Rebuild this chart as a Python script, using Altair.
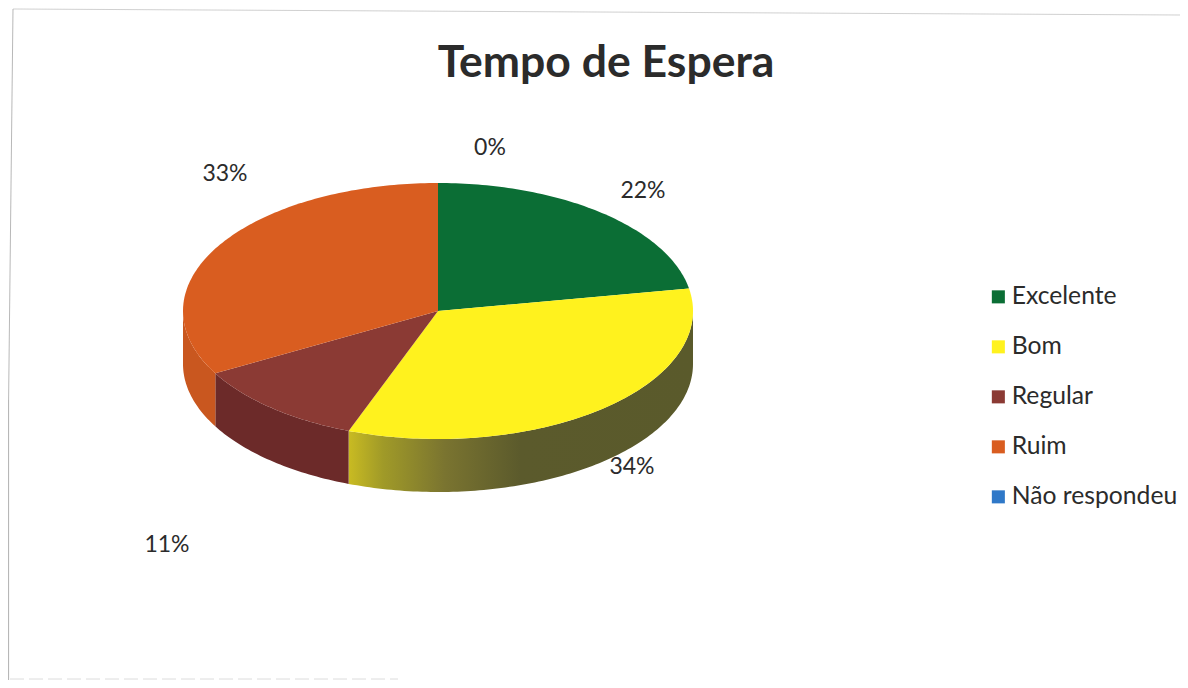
import math
import altair as alt

# ---- values ----
categories = ["Excelente", "Bom", "Regular", "Ruim", "Não respondeu"]
shares = [22.2, 33.5, 11.2, 33.1, 0]
labels = ["22%", "34%", "11%", "33%", "0%"]
top_colors = ["#0b6e35", "#fff21e", "#8b3a34", "#d95d20", "#2f78c8"]

# ---- layout of the tilted pie (plot-area pixels) ----
CX, CY, RX, RY, DEPTH = 430, 303, 255, 128, 53
FONT = "Lato"
INK = "#2b2b2b"


def rim(a0, a1, dy=0.0):
    n = max(2, int(abs(a1 - a0)) + 2)
    out = []
    for i in range(n):
        a = math.radians(a0 + (a1 - a0) * i / (n - 1))
        out.append([CX + RX * math.sin(a), CY - RY * math.cos(a) + dy])
    return out


def feature(name, ring):
    ring = ring + [ring[0]]
    return {"type": "Feature", "properties": {"name": name},
            "geometry": {"type": "Polygon", "coordinates": [ring]}}


bounds = []
run = 0.0
for s in shares:
    a0 = run * 3.6
    run += s
    bounds.append((a0, run * 3.6))

PROJ = dict(type="identity", scale=1, translate=[0, 0])


def side_layer(idx, fill):
    a0, a1 = bounds[idx]
    a0, a1 = max(a0, 90), min(a1, 270)
    ring = rim(a0, a1) + rim(a1, a0, DEPTH)
    return alt.Chart(alt.Data(values=[feature(categories[idx], ring)])).mark_geoshape(
        fill=fill, strokeWidth=0
    ).project(**PROJ)


yellow_side = alt.LinearGradient(
    gradient="linear", x1=1, x2=0, y1=0, y2=0,
    stops=[
        alt.GradientStop(color="#5a5a2b", offset=0),
        alt.GradientStop(color="#5b5a2c", offset=0.5),
        alt.GradientStop(color="#7a7430", offset=0.72),
        alt.GradientStop(color="#a09a28", offset=0.9),
        alt.GradientStop(color="#c9bb22", offset=1),
    ],
)
sides = [
    side_layer(1, yellow_side),
    side_layer(2, "#6c2a29"),
    side_layer(3, "#c9571f"),
]

top_features = [
    feature(c, [[CX, CY]] + rim(a0, a1)) for c, (a0, a1) in zip(categories, bounds)
]
tops = alt.Chart(alt.Data(values=top_features)).mark_geoshape(
    strokeWidth=0
).encode(
    color=alt.Color(
        "properties.name:N",
        scale=alt.Scale(domain=categories, range=top_colors),
        sort=categories,
        legend=alt.Legend(
            title=None,
            orient="none",
            legendX=978,
            legendY=276.5,
            symbolType="square",
            symbolSize=170,
            symbolStrokeWidth=0,
            labelFont=FONT,
            labelFontSize=24.7,
            labelColor=INK,
            labelLimit=300,
            labelOffset=1,
            rowPadding=24,
        ),
    )
).project(**PROJ)

# data-label anchors, placed by hand as in the source chart
label_xy = {"22%": (635, 182.5), "34%": (624, 459), "11%": (159, 537), "33%": (217, 165.5), "0%": (482, 139.5)}
texts = [
    alt.Chart(alt.Data(values=[{"t": t}])).mark_text(
        font=FONT, fontSize=23, color=INK, align="center", baseline="middle"
    ).encode(x=alt.value(label_xy[t][0]), y=alt.value(label_xy[t][1]), text="t:N")
    for t in labels
]

# faint scanned frame of the page
frame_segments = [
    (5, 1, 1172, 7, "#d0d0d0", [1, 0]),
    (5, 1, 0.6, 392, "#b8b8b8", [1, 0]),
    (0.6, 392, 0.6, 672, "#b0b0b0", [1, 0]),
    (2, 671, 390, 671, "#dcdcdc", [14, 5]),
]
frame = [
    alt.Chart(alt.Data(values=[{"k": 1}])).mark_rule(color=c, strokeWidth=1, strokeDash=d).encode(
        x=alt.value(x0), x2=alt.value(x1), y=alt.value(y0), y2=alt.value(y1)
    )
    for x0, y0, x1, y1, c, d in frame_segments
]

chart = alt.layer(*frame, *sides, tops, *texts).properties(
    width=1172,
    height=672,
    padding=0,
    autosize=alt.AutoSizeParams(type="none"),
    background="white",
    title=alt.TitleParams(
        "Tempo de Espera",
        font=FONT,
        fontSize=44.5,
        fontWeight="bold",
        color=INK,
        anchor="middle",
        dx=12,
        offset=-78,
    ),
).configure_view(stroke=None)

chart.save("out.html", embed_options={"renderer": "svg", "actions": False})
